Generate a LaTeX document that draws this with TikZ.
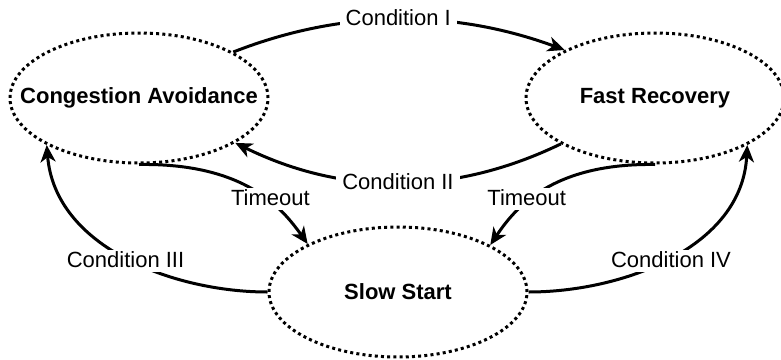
\documentclass[tikz,border=0pt]{standalone}
\usepackage{fontspec}
\setmainfont{Liberation Sans}
\usetikzlibrary{shapes.geometric,arrows.meta}

\tikzset{
  state/.style={ellipse, draw, line width=3pt, dash pattern=on 3pt off 3.2pt,
    inner sep=0pt, minimum width=258pt, minimum height=130pt,
    font=\fontsize{22}{26}\selectfont\bfseries},
  trans/.style={line width=3pt, -{Stealth[length=17pt,width=15pt,inset=5pt]}},
  lbl/.style={fill=white, inner xsep=6pt, inner ysep=2pt, text height=15pt, text depth=3pt,
    font=\fontsize{22}{26}\selectfont}
}

\begin{document}
\begin{tikzpicture}[x=1pt, y=-1pt]
  \useasboundingbox (0,0) rectangle (781,359);

  % the three states
  \node[state] (ca) at (139,98)  {\makebox[0pt]{Congestion Avoidance}};
  \node[state] (fr) at (655,98)  {\makebox[0pt]{Fast Recovery}};
  \node[state] (ss) at (398,292) {\makebox[0pt]{Slow Start}};

  % transitions between the states
  \draw[trans] (ca.26.3) .. controls (343,9) and (453,9) .. (fr.152.9)
    node[lbl, pos=0.5] (c1) {Condition I};
  \draw[trans] (fr.206) .. controls (453,196) and (343,196) .. (ca.-25.6)
    node[lbl, pos=0.5, yshift=-1pt] (c2) {Condition II};
  \draw[trans] (ca.-90) .. controls (245,163) and (282,208) .. (ss.152.2)
    node[lbl, pos=0.62, yshift=3pt] (t1) {Timeout};
  \draw[trans] (fr.-90) .. controls (552,163) and (515,208) .. (ss.27)
    node[lbl, pos=0.62, yshift=3pt] (t2) {Timeout};
  \draw[trans] (ss.180) .. controls (175,292) and (55,248) .. (ca.207.6)
    node[lbl, pos=0.5, yshift=-4pt] (c3) {Condition III};
  \draw[trans] (ss.0) .. controls (622,292) and (742,248) .. (fr.-27.6)
    node[lbl, pos=0.5, yshift=-4pt] (c4) {Condition IV};
\end{tikzpicture}
\end{document}
